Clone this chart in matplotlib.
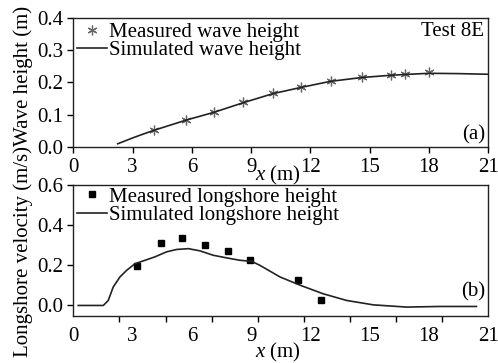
import numpy as np
import matplotlib
matplotlib.use("Agg")
import matplotlib.pyplot as plt
from matplotlib.ticker import FixedLocator, NullFormatter

plt.rcParams['font.family'] = ['Liberation Serif', 'DejaVu Serif']
plt.rcParams['mathtext.fontset'] = 'custom'
plt.rcParams['mathtext.it'] = 'Liberation Serif:italic'
plt.rcParams['mathtext.rm'] = 'Liberation Serif'
FS = 15

# ---- data (a) wave height ----
meas_wave_x = [4.1, 5.7, 7.1, 8.6, 10.1, 11.5, 13.05, 14.6, 16.1, 16.8, 18.0]
meas_wave_h = [0.053, 0.084, 0.108, 0.139, 0.167, 0.185, 0.205, 0.217, 0.224, 0.227, 0.232]
sim_wave_x = [2.25, 3.0, 3.4, 4.1, 5.7, 7.1, 8.6, 10.1, 11.5, 13.0, 14.6, 16.1, 17.0, 18.0, 19.5, 21.0]
sim_wave_h = [0.010, 0.028, 0.037, 0.052, 0.083, 0.107, 0.137, 0.165, 0.184, 0.203, 0.215, 0.222, 0.225, 0.228, 0.227, 0.225]

# ---- data (b) longshore velocity ----
meas_v_x = [3.2, 4.42, 5.51, 6.66, 7.84, 8.94, 11.35, 12.51]
meas_v = [0.195, 0.312, 0.337, 0.303, 0.270, 0.225, 0.125, 0.025]
sim_v_x = [0.25, 1.0, 1.52, 1.77, 2.02, 2.36, 2.70, 3.12, 3.63, 4.13, 4.72, 5.23, 5.82,
           6.41, 7.08, 7.76, 8.43, 9.02, 9.44, 10.46, 11.5, 12.65, 13.83, 15.18, 16.86,
           18.55, 20.4]
sim_v = [0.0, 0.0, 0.0, 0.025, 0.092, 0.142, 0.175, 0.208, 0.225, 0.242, 0.267, 0.279, 0.283,
         0.272, 0.250, 0.237, 0.225, 0.220, 0.200, 0.142, 0.100, 0.058, 0.025, 0.003, -0.008,
         -0.005, -0.005]

xticks = [0, 3, 6, 9, 12, 15, 18, 21]

W, H = 498, 363
fig = plt.figure(figsize=(W / 100, H / 100), dpi=100)

def box(l, t, r, b):
    return [l / W, 1 - b / H, (r - l) / W, (b - t) / H]

ax1 = fig.add_axes(box(73.3, 17.7, 488.3, 147))
ax2 = fig.add_axes(box(73.3, 185, 488.3, 315.5))

lc = '#222222'
ax1.plot(meas_wave_x, meas_wave_h, linestyle='none', marker=(6, 2, 0), markersize=7,
         color='#666666', markeredgewidth=0.9, label='Measured wave height')
ax1.plot(sim_wave_x, sim_wave_h, color=lc, lw=1.2, label='Simulated wave height')
ax1.set_xlim(0, 21)
ax1.set_ylim(0, 0.4)
ax1.set_yticks([0.0, 0.1, 0.2, 0.3, 0.4])
ax1.set_yticklabels(['0.0', '0.1', '0.2', '0.3', '0.4'])
ax1.set_xticks(xticks)
ax1.set_xticklabels([str(v) for v in xticks])

ax2.plot(meas_v_x, meas_v, linestyle='none', marker='s', markersize=5, color='black',
         label='Measured longshore height')
ax2.plot(sim_v_x, sim_v, color=lc, lw=1.2, label='Simulated longshore height')
ax2.set_xlim(0, 21)
ax2.set_ylim(-0.05, 0.6)
ax2.set_yticks([0.0, 0.2, 0.4, 0.6])
ax2.set_yticklabels(['0.0', '0.2', '0.4', '0.6'])
ax2.set_xticks(xticks)
ax2.set_xticklabels([str(v) for v in xticks])
ax2.xaxis.set_minor_locator(FixedLocator(list(np.linspace(0, 21, 10))))
ax2.xaxis.set_minor_formatter(NullFormatter())

for ax in (ax1, ax2):
    for s in ax.spines.values():
        s.set_linewidth(1.0)
        s.set_color('#222222')
    ax.tick_params(which='major', direction='out', labelsize=FS, width=1, length=4, pad=3,
                   top=False, right=False)
ax1.tick_params(axis='x', pad=4)
ax2.tick_params(axis='x', which='major', length=0, pad=8)
ax2.tick_params(axis='x', which='minor', length=4, width=1, direction='out')

ax1.set_xlabel(r'$x$ (m)', fontsize=FS)
ax1.xaxis.set_label_coords(0.493, -0.135)
ax2.set_xlabel(r'$x$ (m)', fontsize=FS)
ax2.xaxis.set_label_coords(0.492, -0.195)
ax1.set_ylabel('Wave height (m)', fontsize=FS)
ax1.yaxis.set_label_coords(-0.097, 0.55)
ax2.set_ylabel('Longshore velocity (m/s)', fontsize=FS)
ax2.yaxis.set_label_coords(-0.097, 0.49)

leg_kw = dict(frameon=False, fontsize=FS, handlelength=1.4, handletextpad=0.1,
              labelspacing=-0.05, borderpad=0, borderaxespad=0, loc='upper left')
ax1.legend(bbox_to_anchor=(0.01, 0.965), **leg_kw)
ax2.legend(bbox_to_anchor=(0.01, 0.985), **leg_kw)

ax1.text(0.9896, 0.897, 'Test 8E', transform=ax1.transAxes, ha='right', va='center', fontsize=FS)
ax1.text(0.993, 0.093, '(a)', transform=ax1.transAxes, ha='right', va='center', fontsize=FS)
ax2.text(0.993, 0.182, '(b)', transform=ax2.transAxes, ha='right', va='center', fontsize=FS)

fig.savefig('out.png', dpi=100)
